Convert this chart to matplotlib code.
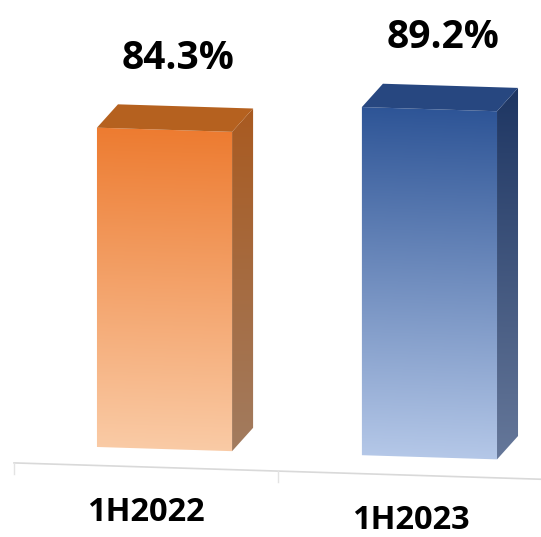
import numpy as np
import matplotlib
matplotlib.use("Agg")
import matplotlib.pyplot as plt
from matplotlib.patches import Polygon
from matplotlib.transforms import Affine2D
from matplotlib.colors import to_rgb

periods = ["1H2022", "1H2023"]
rates = [84.3, 89.2]
labels = ["84.3%", "89.2%"]

# colours per bar: front top, front bottom, side top, side bottom, top face
palette = [
    ("#ED7B30", "#FACBA6", "#A95A20", "#A27C60", "#B5611F"),
    ("#2D5496", "#B5C8E8", "#1D3562", "#66789A", "#274780"),
]

fig = plt.figure(figsize=(5.41, 5.37), dpi=100)
ax = fig.add_axes([0, 0, 1, 1])
ax.axis("off")
ax.set_xlim(-0.621, 1.421)
ax.set_ylim(14.18, 105.5)

base = 30.0          # value axis minimum
width = 0.51         # bar width in category units
px_x = 541 / (1.421 + 0.621)
px_y = 537 / (105.5 - 14.18)
dx = 21 / px_x       # depth of the 3-D box
dy = 24 / px_y

# slight perspective tilt of the whole plot
tilt = Affine2D(np.array([[1.0, 0.0, 0.0], [-0.031, 1.0, 0.0], [0.0, 0.0, 1.0]]))
T = ax.transData + tilt


def ramp(c_top, c_bot, n=256):
    a, b = np.array(to_rgb(c_top)), np.array(to_rgb(c_bot))
    t = np.linspace(0, 1, n)[:, None]
    return (a + (b - a) * t)[:, None, :]


def shaded(pts, extent, c_top, c_bot):
    clip = Polygon(pts, closed=True, transform=T, facecolor="none", edgecolor="none")
    ax.add_patch(clip)
    # pad the image a little so the clip edge never shows the background
    l, r, b, t = extent
    pad_x, pad_y = 2 / px_x, 2 / px_y
    im = ax.imshow(ramp(c_top, c_bot), extent=[l - pad_x, r + pad_x, b - pad_y, t + pad_y],
                   transform=T, aspect="auto", interpolation="bilinear", zorder=2)
    im.set_clip_path(clip)


for i, v in enumerate(rates):
    f_top, f_bot, s_top, s_bot, t_col = palette[i]
    x0, x1 = i - width / 2, i + width / 2
    # front face
    front = [(x0, base), (x1, base), (x1, v), (x0, v)]
    shaded(front, [x0, x1, base, v], f_top, f_bot)
    # right side face
    side = [(x1, base), (x1 + dx, base + dy), (x1 + dx, v + dy), (x1, v)]
    shaded(side, [x1, x1 + dx, base, v + dy], s_top, s_bot)
    # top face
    top = [(x0, v), (x1, v), (x1 + dx, v + dy), (x0 + dx, v + dy)]
    ax.add_patch(Polygon(top, closed=True, transform=T, facecolor=t_col,
                         edgecolor="none", zorder=3))

    ax.text(i + 0.05, v + 12.2, labels[i], transform=T, ha="center", va="center",
            fontsize=28, fontweight="bold", family=["Open Sans", "DejaVu Sans"],
            color="black")
    ax.text(i - 0.07, 19.1, periods[i], transform=T, ha="center", va="center",
            fontsize=23.5, fontweight="bold", family=["Open Sans", "DejaVu Sans"],
            color="black")

# floor edge and category separators
floor = base - 18.5 / px_y
ax.plot([-0.568, 1.421], [floor, floor], color="#D9D9D9", lw=1.2, transform=T, zorder=1)
for xt in [-0.568, 0.428]:
    ax.plot([xt, xt], [floor, floor - 11 / px_y], color="#E3E3E3", lw=1.0,
            transform=T, zorder=1)

fig.savefig("out.png", dpi=100)
